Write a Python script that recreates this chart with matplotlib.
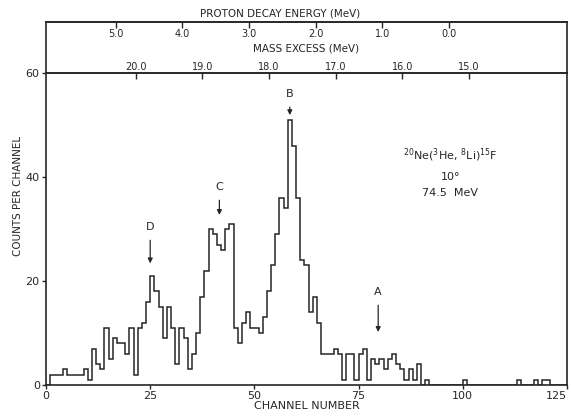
import matplotlib
matplotlib.use("Agg")
import matplotlib.pyplot as plt
import numpy as np

# ------------------------------------------------------------------
# Data (counts in channel i, drawn over [i, i+1))
# ------------------------------------------------------------------
counts = [
    0, 2, 2, 2, 3, 2, 2, 2, 2, 3,          # 0-9
    1, 7, 4, 3, 11, 5, 9, 8, 8, 6,         # 10-19
    11, 2, 11, 12, 16, 21, 18, 15, 9, 15,  # 20-29
    11, 4, 11, 9, 3, 6, 10, 17, 22, 30,    # 30-39
    29, 27, 26, 30, 31, 11, 8, 12, 14, 11, # 40-49
    11, 10, 13, 18, 23, 29, 36, 34, 51, 46,  # 50-59
    36, 24, 23, 14, 17, 12, 6, 6, 6, 7,    # 60-69
    6, 1, 6, 6, 1, 6, 7, 1, 5, 4,          # 70-79
    5, 3, 5, 6, 4, 3, 1, 3, 1, 4,          # 80-89
    0, 1, 0, 0, 0, 0, 0, 0, 0, 0,          # 90-99
    1, 0, 0, 0, 0, 0, 0, 0, 0, 0,          # 100-109
    0, 0, 0, 1, 0, 0, 0, 1, 0, 1,          # 110-119
    1, 0, 0, 0, 0,                         # 120-124
]

channel_ticks = [0, 25, 50, 75, 100, 125]
count_ticks = [0, 20, 40, 60]
mass_ticks = [20.0, 19.0, 18.0, 17.0, 16.0, 15.0]
energy_ticks = [5.0, 4.0, 3.0, 2.0, 1.0, 0.0]

peak_names = ["D", "C", "B", "A"]
peak_channels = [25.0, 41.6, 58.5, 79.7]
label_heights = [30.4, 38.1, 56.0, 17.9]
arrow_tips = [23.4, 32.7, 51.9, 10.2]

# calibration of the upper scales (channel <-> MeV)
CH_PER_MEV = 16.0
CH_AT_17_5 = 61.5
SEP_ENERGY = 15.3   # mass excess at zero proton decay energy

INK = "#262626"


def ch_to_mass(ch):
    return 17.5 - (np.asarray(ch, dtype=float) - CH_AT_17_5) / CH_PER_MEV


def mass_to_ch(m):
    return CH_AT_17_5 + (17.5 - np.asarray(m, dtype=float)) * CH_PER_MEV


def ch_to_energy(ch):
    return ch_to_mass(ch) - SEP_ENERGY


def energy_to_ch(e):
    return mass_to_ch(np.asarray(e, dtype=float) + SEP_ENERGY)


W_PX, H_PX = 571, 417
fig = plt.figure(figsize=(W_PX / 100, H_PX / 100), dpi=100)

left, right = 46 / W_PX, 567 / W_PX
ax = fig.add_axes([left, (H_PX - 385) / H_PX, right - left, (385 - 73) / H_PX])
ax_top = fig.add_axes([left, (H_PX - 73) / H_PX, right - left, (73 - 22) / H_PX])
ax_top.patch.set_visible(False)

# --- spectrum ------------------------------------------------------
edges = np.arange(len(counts) + 1)
ax.stairs(counts, edges, color=INK, linewidth=1.1)

ax.set_xlim(0, 125)
ax.set_ylim(0, 60)
ax.set_xticks(channel_ticks)
ax.set_xticklabels([str(t) for t in channel_ticks])
ax.get_xticklabels()[-1].set_horizontalalignment("right")
ax.set_yticks(count_ticks)
ax.set_yticklabels([str(t) for t in count_ticks])
ax.tick_params(direction="out", length=3, width=1.0, colors=INK,
               labelsize=8, pad=1.5)
for sp in ax.spines.values():
    sp.set_color(INK)
    sp.set_linewidth(1.2)

ax.set_xlabel("CHANNEL NUMBER", fontsize=8, color=INK, labelpad=0)
ax.set_ylabel("COUNTS PER CHANNEL", fontsize=7.5, color=INK)
ax.yaxis.set_label_coords(-0.045, 0.605)

# peak markers
for name, x, ty, tip in zip(peak_names, peak_channels, label_heights, arrow_tips):
    ax.annotate(name, xy=(x, tip), xytext=(x, ty), ha="center", va="center",
                fontsize=8, color=INK,
                arrowprops=dict(arrowstyle="-|>", color=INK, lw=0.9,
                                mutation_scale=7, shrinkA=4, shrinkB=0))

# reaction label
ax.text(97, 44.2, r"$^{20}$Ne($^{3}$He, $^{8}$Li)$^{15}$F", ha="center",
        va="center", fontsize=8, color=INK)
ax.text(97, 40.0, "10°", ha="center", va="center", fontsize=8, color=INK)
ax.text(97, 36.9, "74.5  MeV", ha="center", va="center", fontsize=8, color=INK)

# --- mass excess scale on the 60-count line ------------------------
sec_m = ax.secondary_xaxis("top", functions=(ch_to_mass, mass_to_ch))
sec_m.set_xticks(mass_ticks)
sec_m.set_xticklabels([f"{t:.1f}" for t in mass_ticks])
sec_m.tick_params(direction="in", length=4, width=1.0, colors=INK,
                  labelsize=7, pad=1)
sec_m.spines["top"].set_color(INK)
sec_m.spines["top"].set_linewidth(1.2)
sec_m.set_xlabel("MASS EXCESS (MeV)", fontsize=7.5, color=INK, labelpad=7)

# --- proton decay energy box ---------------------------------------
ax_top.set_xlim(ax.get_xlim())
ax_top.set_xticks([])
ax_top.set_yticks([])
ax_top.spines["bottom"].set_visible(False)
for sp in ("left", "right", "top"):
    ax_top.spines[sp].set_color(INK)
    ax_top.spines[sp].set_linewidth(1.2)

sec_e = ax_top.secondary_xaxis("top", functions=(ch_to_energy, energy_to_ch))
sec_e.set_xticks(energy_ticks)
sec_e.set_xticklabels([f"{t:.1f}" for t in energy_ticks])
sec_e.tick_params(direction="in", length=4, width=1.0, colors=INK,
                  labelsize=7, pad=-12)
sec_e.spines["top"].set_color(INK)
sec_e.spines["top"].set_linewidth(1.2)
ax_top.text(0.449, 1.06, "PROTON DECAY ENERGY (MeV)", transform=ax_top.transAxes,
            ha="center", va="bottom", fontsize=7.5, color=INK)

fig.savefig("out.png", dpi=100)
